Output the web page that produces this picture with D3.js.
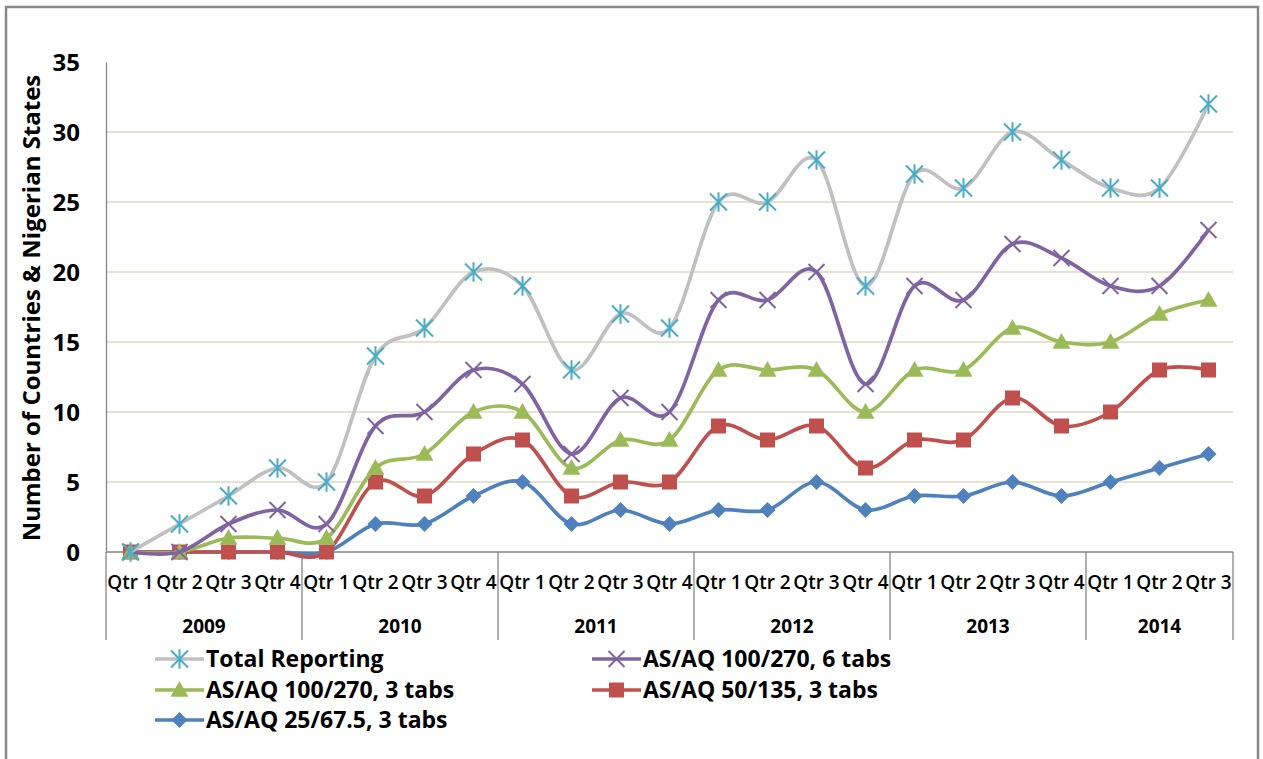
<!DOCTYPE html>
<html><head><meta charset="utf-8">
<script src="https://cdn.jsdelivr.net/npm/d3@7/dist/d3.min.js"></script>
<style>
html,body{margin:0;padding:0;background:#fff;}
svg{display:block;font-family:"Open Sans",Lato,sans-serif;}
</style></head>
<body>
<svg id="c" width="1263" height="759"></svg>
<script>
const years = ["2009","2010","2011","2012","2013","2014"];
const quartersPerYear = [4,4,4,4,4,3];
const quarterNames = ["Qtr 1","Qtr 2","Qtr 3","Qtr 4"];
const yTicks = [0,5,10,15,20,25,30,35];

const totalReporting = [0,2,4,6,5,14,16,20,19,13,17,16,25,25,28,19,27,26,30,28,26,26,32];
const asaq100_6tabs  = [0,0,2,3,2,9,10,13,12,7,11,10,18,18,20,12,19,18,22,21,19,19,23];
const asaq100_3tabs  = [0,0,1,1,1,6,7,10,10,6,8,8,13,13,13,10,13,13,16,15,15,17,18];
const asaq50_3tabs   = [0,0,0,0,0,5,4,7,8,4,5,5,9,8,9,6,8,8,11,9,10,13,13];
const asaq25_3tabs   = [0,0,0,0,0,2,2,4,5,2,3,2,3,3,5,3,4,4,5,4,5,6,7];

const seriesNames = ["Total Reporting","AS/AQ 100/270, 6 tabs","AS/AQ 100/270, 3 tabs","AS/AQ 50/135, 3 tabs","AS/AQ 25/67.5, 3 tabs"];

const FONT = "'Open Sans', Lato, sans-serif";

// build categories
const cats = [];
years.forEach((y,i)=>{ for(let q=0;q<quartersPerYear[i];q++) cats.push({year:y, q:quarterNames[q], id:y+"-"+q}); });

const series = [
  {name:seriesNames[4], values:asaq25_3tabs, color:"#4f81bd", marker:"diamond"},
  {name:seriesNames[3], values:asaq50_3tabs, color:"#c0504d", marker:"square"},
  {name:seriesNames[2], values:asaq100_3tabs, color:"#9bbb59", marker:"triangle"},
  {name:seriesNames[1], values:asaq100_6tabs, color:"#8064a2", marker:"x"},
  {name:seriesNames[0], values:totalReporting, color:"#c0c0c0", marker:"star", mcolor:"#4bacc6"}
];

const svg = d3.select("#c");
// outer border
svg.append("rect").attr("x",6).attr("y",7).attr("width",1252).attr("height",760)
  .attr("fill","none").attr("stroke","#888").attr("stroke-width",2.5);

const L=106, R=1233, T=62, B=552;
const x = d3.scaleBand().domain(cats.map(c=>c.id)).range([L,R]);
const y = d3.scaleLinear().domain([0,35]).range([B,T]);
const cx = id => x(id)+x.bandwidth()/2;

// gridlines
svg.append("g").selectAll("line").data(yTicks.filter(t=>t>0 && t<35)).join("line")
  .attr("x1",L).attr("x2",R).attr("y1",d=>y(d)).attr("y2",d=>y(d))
  .attr("stroke","#ddd9c3").attr("stroke-width",1.3);

// y axis
const yAxis = d3.axisLeft(y).tickValues(yTicks).tickSize(0).tickPadding(26);
const gy = svg.append("g").attr("transform",`translate(${L},0)`).call(yAxis);
gy.select(".domain").attr("stroke","#868686").attr("stroke-width",1.3);
gy.selectAll("text").attr("font-size",24).attr("font-weight","bold").attr("fill","#000")
  .attr("font-family",FONT).attr("dy","0.35em");

// x axis line
svg.append("line").attr("x1",L).attr("x2",R).attr("y1",B).attr("y2",B).attr("stroke","#868686").attr("stroke-width",1.3);

// quarter labels via axis
const xAxis = d3.axisBottom(x).tickSize(0).tickPadding(22).tickFormat(id=>cats.find(c=>c.id===id).q);
const gx = svg.append("g").attr("transform",`translate(0,${B})`).call(xAxis);
gx.select(".domain").remove();
gx.selectAll("text").attr("font-size",19).attr("font-weight",600).attr("fill","#000")
  .attr("font-family",FONT).attr("dy","0.35em").attr("y",30);

// year group separators and labels
let idx=0;
const bounds=[];
years.forEach((yr,i)=>{
  const first=cats[idx], last=cats[idx+quartersPerYear[i]-1];
  bounds.push({yr, x0:x(first.id), x1:x(last.id)+x.bandwidth()});
  idx+=quartersPerYear[i];
});
const sepX = [bounds[0].x0].concat(bounds.map(b=>b.x1));
svg.append("g").selectAll("line").data(sepX).join("line")
  .attr("x1",d=>d).attr("x2",d=>d).attr("y1",B).attr("y2",640)
  .attr("stroke","#868686").attr("stroke-width",1.3);
svg.append("g").selectAll("text").data(bounds).join("text")
  .attr("x",d=>(d.x0+d.x1)/2).attr("y",626).attr("dy","0.35em").attr("text-anchor","middle")
  .attr("font-size",19).attr("font-weight","bold").attr("font-family",FONT).text(d=>d.yr);

// y title
svg.append("text").attr("transform",`translate(32,308) rotate(-90)`)
  .attr("text-anchor","middle").attr("dy","0.35em").attr("font-size",24).attr("font-weight","bold")
  .attr("font-family",FONT)
  .text("Number of Countries & Nigerian States");

// markers
function drawMarker(g, type, color, px, py){
  if(type==="diamond"){
    const r=8;
    g.append("path").attr("d",`M${px},${py-r}L${px+r},${py}L${px},${py+r}L${px-r},${py}Z`).attr("fill",color);
  } else if(type==="square"){
    const r=7.5;
    g.append("rect").attr("x",px-r).attr("y",py-r).attr("width",2*r).attr("height",2*r).attr("fill",color);
  } else if(type==="triangle"){
    const r=9;
    g.append("path").attr("d",`M${px},${py-r}L${px+r},${py+r*0.75}L${px-r},${py+r*0.75}Z`).attr("fill",color);
  } else if(type==="x"){
    const r=8;
    g.append("path").attr("d",`M${px-r},${py-r}L${px+r},${py+r}M${px-r},${py+r}L${px+r},${py-r}`)
      .attr("stroke",color).attr("stroke-width",2).attr("fill","none");
  } else if(type==="star"){
    const r=8.5;
    g.append("path").attr("d",`M${px-r},${py-r}L${px+r},${py+r}M${px-r},${py+r}L${px+r},${py-r}M${px},${py-r*1.15}L${px},${py+r*1.15}`)
      .attr("stroke",color).attr("stroke-width",2).attr("fill","none");
  }
}

const line = d3.line().x((d,i)=>cx(cats[i].id)).y(d=>y(d)).curve(d3.curveCatmullRom.alpha(0));
series.forEach(s=>{
  const g=svg.append("g");
  g.append("path").datum(s.values).attr("d",line).attr("fill","none")
    .attr("stroke",s.color).attr("stroke-width",3.7).attr("stroke-linejoin","round");
  s.values.forEach((v,i)=>drawMarker(g,s.marker,s.mcolor||s.color,cx(cats[i].id),y(v)));
});

// legend
const legendItems = [
  {s:series[4], lx:155, ly:659},
  {s:series[3], lx:592, ly:659},
  {s:series[2], lx:155, ly:690},
  {s:series[1], lx:592, ly:690},
  {s:series[0], lx:155, ly:720}
];
legendItems.forEach(it=>{
  const g=svg.append("g");
  g.append("line").attr("x1",it.lx).attr("x2",it.lx+49).attr("y1",it.ly).attr("y2",it.ly)
    .attr("stroke",it.s.color).attr("stroke-width",3.7);
  drawMarker(g,it.s.marker,it.s.mcolor||it.s.color,it.lx+24.5,it.ly);
  g.append("text").attr("x",it.lx+51).attr("y",it.ly).attr("dy","0.35em")
    .attr("font-size",23).attr("font-weight","bold").attr("font-family",FONT).text(it.s.name);
});
</script>
</body></html>
